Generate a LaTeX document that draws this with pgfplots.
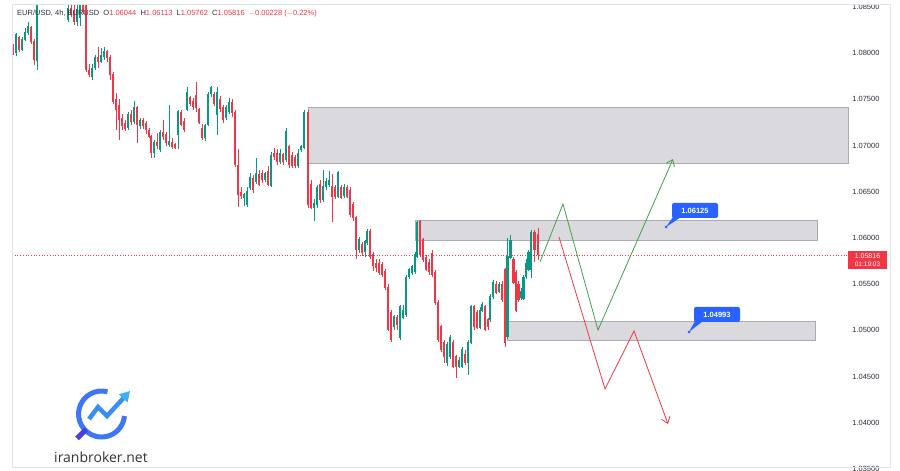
\documentclass[border=0pt]{standalone}
\usepackage{pgfplots}
\pgfplotsset{compat=1.18}
\usepackage{pgfplotstable}
\usepackage{fontspec}
\setmainfont{Liberation Sans}
\newfontfamily\logofont{Open Sans}
\usetikzlibrary{arrows.meta}

\definecolor{upc}{HTML}{089981}
\definecolor{dnc}{HTML}{F23645}
\definecolor{zonefill}{HTML}{D9D9DE}
\definecolor{zoneedge}{HTML}{ABABB1}
\definecolor{tickgray}{HTML}{2A2E39}
\definecolor{framegray}{HTML}{E0E3EB}
\definecolor{callblue}{HTML}{2962FF}
\definecolor{pathgreen}{HTML}{43A047}

% 4h candles, x = horizontal position, o h l c = prices
\pgfplotstableread{
x o h l c
16 1.0801 1.0822 1.0797 1.0820
22 1.0804 1.0817 1.0802 1.0815
25 1.0815 1.0827 1.0813 1.0823
28 1.0822 1.0834 1.0820 1.0829
37 1.0792 1.0869 1.0782 1.0863
68 1.0836 1.0860 1.0834 1.0849
77 1.0834 1.0855 1.0830 1.0847
80 1.0839 1.0863 1.0829 1.0853
92 1.0775 1.0788 1.0771 1.0784
95 1.0784 1.0798 1.0782 1.0795
101 1.0791 1.0806 1.0789 1.0798
104 1.0796 1.0807 1.0793 1.0802
128 1.0719 1.0736 1.0717 1.0734
134 1.0726 1.0748 1.0723 1.0741
140 1.0722 1.0730 1.0718 1.0727
154 1.0693 1.0706 1.0687 1.0704
160 1.0696 1.0717 1.0693 1.0714
169 1.0701 1.0744 1.0698 1.0705
178 1.0712 1.0739 1.0696 1.0737
187 1.0739 1.0763 1.0737 1.0758
205 1.0709 1.0724 1.0705 1.0722
208 1.0723 1.0758 1.0721 1.0756
211 1.0756 1.0765 1.0753 1.0763
217 1.0734 1.0763 1.0712 1.0758
226 1.0730 1.0744 1.0728 1.0741
229 1.0737 1.0752 1.0734 1.0747
244 1.0644 1.0649 1.0635 1.0647
247 1.0636 1.0655 1.0634 1.0651
250 1.0655 1.0670 1.0652 1.0666
256 1.0661 1.0687 1.0658 1.0670
265 1.0663 1.0672 1.0661 1.0670
271 1.0657 1.0693 1.0655 1.0690
280 1.0683 1.0696 1.0680 1.0692
286 1.0685 1.0719 1.0682 1.0716
298 1.0678 1.0696 1.0676 1.0692
301 1.0696 1.0701 1.0693 1.0699
304 1.0698 1.0739 1.0696 1.0736
314 1.0633 1.0642 1.0618 1.0638
317 1.0636 1.0658 1.0633 1.0655
323 1.0642 1.0674 1.0639 1.0656
326 1.0656 1.0665 1.0652 1.0661
329 1.0658 1.0672 1.0655 1.0663
338 1.0645 1.0673 1.0643 1.0671
344 1.0646 1.0658 1.0643 1.0655
359 1.0587 1.0601 1.0584 1.0598
365 1.0585 1.0598 1.0579 1.0596
367 1.0595 1.0610 1.0592 1.0607
394 1.0504 1.0517 1.0501 1.0515
400 1.0492 1.0528 1.0490 1.0526
403 1.0514 1.0528 1.0512 1.0522
406 1.0517 1.0560 1.0515 1.0558
409 1.0558 1.0568 1.0556 1.0566
412 1.0563 1.0571 1.0560 1.0569
415 1.0564 1.0585 1.0561 1.0582
417 1.0580 1.0619 1.0578 1.0617
447 1.0465 1.0487 1.0461 1.0485
450 1.0472 1.0495 1.0469 1.0493
459 1.0461 1.0471 1.0459 1.0468
462 1.0461 1.0482 1.0459 1.0479
468 1.0465 1.0490 1.0452 1.0487
471 1.0487 1.0528 1.0485 1.0526
480 1.0503 1.0525 1.0501 1.0522
482 1.0522 1.0531 1.0520 1.0528
490 1.0512 1.0539 1.0509 1.0537
493 1.0537 1.0555 1.0534 1.0552
499 1.0542 1.0552 1.0540 1.0550
507.5 1.0493 1.0600 1.0491 1.0580
510.5 1.0579 1.0603 1.0577 1.0598
521 1.0535 1.0546 1.0533 1.0542
523.5 1.0535 1.0560 1.0533 1.0558
526 1.0558 1.0577 1.0556 1.0573
528.5 1.0566 1.0587 1.0564 1.0584
531 1.0566 1.0609 1.0557 1.0606
}\upc

\pgfplotstableread{
x o h l c
13 1.0807 1.0810 1.0798 1.0801
19 1.0817 1.0819 1.0801 1.0804
31 1.0828 1.0830 1.0810 1.0813
34 1.0813 1.0815 1.0787 1.0793
71 1.0849 1.0858 1.0839 1.0842
74 1.0845 1.0853 1.0831 1.0834
83 1.0853 1.0863 1.0842 1.0845
86 1.0853 1.0863 1.0780 1.0782
89 1.0782 1.0788 1.0774 1.0777
98 1.0795 1.0807 1.0784 1.0791
107 1.0802 1.0804 1.0791 1.0795
110 1.0795 1.0798 1.0771 1.0777
113 1.0777 1.0780 1.0745 1.0748
116 1.0750 1.0757 1.0717 1.0739
119 1.0744 1.0750 1.0706 1.0728
122 1.0730 1.0734 1.0717 1.0722
125 1.0724 1.0728 1.0716 1.0719
131 1.0734 1.0739 1.0722 1.0726
137 1.0741 1.0743 1.0703 1.0723
143 1.0727 1.0730 1.0718 1.0722
146 1.0724 1.0727 1.0713 1.0717
149 1.0717 1.0719 1.0708 1.0710
151 1.0710 1.0712 1.0687 1.0693
157 1.0704 1.0714 1.0696 1.0700
163 1.0714 1.0728 1.0706 1.0710
166 1.0712 1.0715 1.0700 1.0703
172 1.0704 1.0708 1.0696 1.0699
175 1.0701 1.0703 1.0696 1.0698
181 1.0736 1.0739 1.0721 1.0723
184 1.0726 1.0730 1.0715 1.0717
190 1.0752 1.0754 1.0743 1.0745
193 1.0748 1.0751 1.0739 1.0742
196 1.0754 1.0769 1.0737 1.0741
199 1.0739 1.0741 1.0723 1.0725
202 1.0719 1.0723 1.0706 1.0709
214 1.0755 1.0758 1.0743 1.0745
220 1.0750 1.0754 1.0737 1.0740
223 1.0741 1.0744 1.0725 1.0728
232 1.0747 1.0750 1.0731 1.0736
235 1.0736 1.0739 1.0677 1.0679
238 1.0679 1.0696 1.0634 1.0647
241 1.0650 1.0655 1.0642 1.0646
253 1.0665 1.0668 1.0649 1.0652
259 1.0669 1.0674 1.0656 1.0658
262 1.0670 1.0674 1.0660 1.0663
268 1.0672 1.0678 1.0656 1.0658
274 1.0692 1.0698 1.0685 1.0688
277 1.0692 1.0696 1.0679 1.0683
283 1.0690 1.0692 1.0679 1.0683
289 1.0699 1.0701 1.0676 1.0679
292 1.0690 1.0693 1.0676 1.0678
295 1.0687 1.0690 1.0676 1.0678
308 1.0736 1.0739 1.0633 1.0636
311 1.0658 1.0663 1.0631 1.0633
320 1.0658 1.0663 1.0638 1.0642
332 1.0656 1.0669 1.0617 1.0645
335 1.0655 1.0658 1.0642 1.0645
341 1.0655 1.0658 1.0642 1.0644
347 1.0655 1.0657 1.0643 1.0645
350 1.0652 1.0655 1.0623 1.0625
353 1.0636 1.0639 1.0618 1.0622
356 1.0622 1.0624 1.0577 1.0587
362 1.0593 1.0596 1.0581 1.0584
370 1.0607 1.0610 1.0577 1.0580
373 1.0582 1.0585 1.0564 1.0570
376 1.0573 1.0577 1.0563 1.0568
379 1.0573 1.0577 1.0560 1.0563
382 1.0571 1.0574 1.0558 1.0560
385 1.0564 1.0566 1.0544 1.0546
388 1.0547 1.0550 1.0499 1.0501
391 1.0519 1.0522 1.0488 1.0490
397 1.0514 1.0517 1.0501 1.0506
420 1.0618 1.0620 1.0579 1.0582
423 1.0598 1.0600 1.0574 1.0577
426 1.0579 1.0582 1.0564 1.0566
429 1.0574 1.0577 1.0560 1.0564
432 1.0584 1.0587 1.0558 1.0560
435 1.0563 1.0566 1.0528 1.0530
438 1.0530 1.0533 1.0488 1.0490
441 1.0504 1.0506 1.0477 1.0479
444 1.0487 1.0490 1.0465 1.0472
453 1.0487 1.0490 1.0459 1.0461
456 1.0472 1.0474 1.0449 1.0461
465 1.0474 1.0479 1.0463 1.0465
474 1.0526 1.0528 1.0501 1.0504
477 1.0520 1.0522 1.0501 1.0503
485 1.0526 1.0528 1.0499 1.0501
488 1.0512 1.0514 1.0501 1.0504
496 1.0550 1.0553 1.0539 1.0541
502 1.0550 1.0553 1.0531 1.0533
505 1.0566 1.0568 1.0482 1.0487
513.5 1.0577 1.0579 1.0550 1.0552
516 1.0563 1.0566 1.0520 1.0522
518.5 1.0550 1.0553 1.0531 1.0533
534.5 1.0606 1.0609 1.0574 1.0587
538 1.06044 1.06113 1.05762 1.05816
}\dnc

\begin{document}
\begin{tikzpicture}
\begin{axis}[
    scale only axis,
    width=900pt, height=471pt,
    xmin=0, xmax=900,
    ymin=1.034784, ymax=1.085758,
    axis line style={draw=none},
    tick style={draw=none},
    xtick=\empty,
    ytick={1.035,1.04,1.045,1.05,1.055,1.06,1.065,1.07,1.075,1.08,1.085},
    scaled y ticks=false,
    yticklabel pos=right,
    /pgf/number format/assume math mode=true,
    yticklabel style={/pgf/number format/fixed, /pgf/number format/fixed zerofill,
        /pgf/number format/precision=5, anchor=east, xshift=-17pt,
        font=\fontsize{7.5}{9}\selectfont, text=tickgray},
    candle/.style={draw=none, no markers, forget plot, error bars/.cd, y dir=both, y explicit, error mark=none},
]
% zones
\draw[fill=zonefill, draw=zoneedge, line width=0.8pt] (axis cs:308,1.07418) rectangle (axis cs:848,1.06812);
\draw[fill=zonefill, draw=zoneedge, line width=0.8pt] (axis cs:415,1.06195) rectangle (axis cs:817,1.05978);
\draw[fill=zonefill, draw=zoneedge, line width=0.8pt] (axis cs:507,1.05102) rectangle (axis cs:815,1.04896);

% current price line
\addplot[draw=dnc, dotted, line width=0.7pt, no markers, forget plot] coordinates {(12,1.05816) (848,1.05816)};

% wicks
\addplot[candle, error bar style={line width=0.8pt, draw=upc}]
    table[x=x, y expr={(\thisrow{h}+\thisrow{l})/2}, y error expr={(\thisrow{h}-\thisrow{l})/2}] {\upc};
\addplot[candle, error bar style={line width=0.8pt, draw=dnc}]
    table[x=x, y expr={(\thisrow{h}+\thisrow{l})/2}, y error expr={(\thisrow{h}-\thisrow{l})/2}] {\dnc};
% bodies
\addplot[candle, error bar style={line width=2.3pt, draw=upc}]
    table[x=x, y expr={(\thisrow{o}+\thisrow{c})/2}, y error expr={abs(\thisrow{c}-\thisrow{o})/2+0.00004}] {\upc};
\addplot[candle, error bar style={line width=2.3pt, draw=dnc}]
    table[x=x, y expr={(\thisrow{o}+\thisrow{c})/2}, y error expr={abs(\thisrow{c}-\thisrow{o})/2+0.00004}] {\dnc};

% scenario paths
\addplot[draw=pathgreen, no markers, line width=0.8pt, -{Straight Barb[length=6pt,width=9pt]}] coordinates {
    (540,1.05740) (563,1.06368) (598,1.05004) (673,1.06855)};
\addplot[draw=dnc, no markers, line width=0.8pt, -{Straight Barb[length=6pt,width=9pt]}] coordinates {
    (559,1.06011) (605,1.04366) (634,1.04994) (668,1.03987)};
\end{axis}

% annotations in pixel coordinates (y downwards)
\begin{scope}[shift={(current axis.north west)}, x=1pt, y=-1pt]
\fill[white] (-2,-2) rectangle (902,4.5);
\draw[framegray, line width=0.8pt] (12,4.5) rectangle (890,467.5);

\node[anchor=west, inner sep=0pt, font=\fontsize{7.5}{9}\selectfont, text=tickgray] at (17,14)
  {EUR/USD, 4h, EURUSD\ \ O\textcolor{dnc}{1.06044}\ \ H\textcolor{dnc}{1.06113}\ \ L\textcolor{dnc}{1.05762}\ \ C\textcolor{dnc}{1.05816}\ \ \textcolor{dnc}{$-$0.00228 ($-$0.22\%)}};

% last price tag
\fill[dnc] (848,251) rectangle (887,269.5);
\node[white, inner sep=0pt, font=\fontsize{7}{8}\selectfont] at (867.5,256) {1.05816};
\node[white, inner sep=0pt, font=\fontsize{6.5}{8}\selectfont] at (867.5,264.5) {01:19:03};

% price callouts
\fill[callblue, rounded corners=2pt] (672,203) rectangle (718,218);
\fill[callblue] (673,217) -- (681,217) -- (666,227) -- cycle;
\fill[callblue] (666,227) circle (1.5);
\node[white, inner sep=0pt, font=\bfseries\fontsize{7.5}{9}\selectfont] at (695,210.5) {1.06125};
\fill[callblue, rounded corners=2pt] (694,307) rectangle (740,322);
\fill[callblue] (695,321) -- (703,321) -- (689,332) -- cycle;
\fill[callblue] (689,332) circle (1.5);
\node[white, inner sep=0pt, font=\bfseries\fontsize{7.5}{9}\selectfont] at (717,314.5) {1.04993};

% logo
\draw[line width=5pt, color={rgb,255:red,62;green,118;blue,244}] (107.5,391.8) arc[start angle=-75, end angle=-355, radius=23];
\draw[line width=5pt, color={rgb,255:red,74;green,63;blue,228}] (86,429.5) -- (77,438.5);
\draw[line width=4.5pt, color={rgb,255:red,58;green,140;blue,246}, line join=miter] (89,419) -- (98,407) -- (107,416) -- (123.2,398.4);
\fill[color={rgb,255:red,56;green,176;blue,248}] (130,391) -- (127.6,402.5) -- (118.8,394.3) -- cycle;
\node[inner sep=0pt, font=\logofont\fontsize{14}{16}\selectfont, text={rgb,255:red,51;green,51;blue,51}] at (101,457) {iranbroker.net};
\end{scope}

\pgfresetboundingbox
\path[use as bounding box] (current axis.south west) rectangle (current axis.north east);
\end{tikzpicture}
\end{document}
